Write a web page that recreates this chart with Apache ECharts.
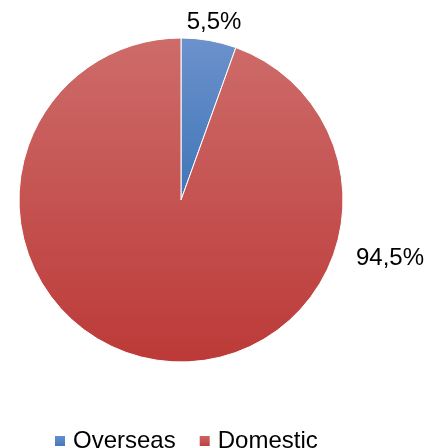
<!DOCTYPE html>
<html>
<head>
<meta charset="utf-8">
<script src="https://cdn.jsdelivr.net/npm/echarts@6/dist/echarts.min.js"></script>
<style>html,body{margin:0;padding:0;background:#fff;}#c{width:427px;height:448px;}</style>
</head>
<body>
<div id="c"></div>
<script>
var categories = ['Overseas', 'Domestic'];
var values = [5.5, 94.5];
var labelPos = [[214, 22], [390, 258]];

function grad(top, bottom) {
  return new echarts.graphic.LinearGradient(0, 0, 0, 1, [
    {offset: 0, color: top}, {offset: 1, color: bottom}
  ]);
}
var colors = [grad('#6C92CB', '#3F75B8'), grad('#CD6C6A', '#BC3A38')];

var chart = echarts.init(document.getElementById('c'));
chart.setOption({
  animation: false,
  textStyle: {fontFamily: 'Liberation Sans, Arial, sans-serif'},
  legend: {
    bottom: -5,
    left: 53,
    padding: [0, 0, 0, 0],
    icon: 'rect',
    itemWidth: 12,
    itemHeight: 12,
    itemGap: 22,
    textStyle: {fontSize: 24, color: '#000', padding: [0, 0, 0, 2], fontFamily: 'Liberation Sans, Arial, sans-serif'},
    data: categories
  },
  series: [{
    type: 'pie',
    center: [181, 200],
    radius: [0, 162],
    startAngle: 90,
    clockwise: true,
    itemStyle: {borderColor: '#fff', borderWidth: 1},
    label: {
      show: true,
      position: 'outside',
      formatter: function (p) { return String(p.value).replace('.', ',') + '%'; },
      fontSize: 24,
      color: '#000',
      fontFamily: 'Liberation Sans, Arial, sans-serif'
    },
    labelLine: {show: false},
    labelLayout: function (p) {
      var pos = labelPos[p.dataIndex];
      return {x: pos[0], y: pos[1], align: 'center', verticalAlign: 'middle'};
    },
    emphasis: {disabled: true},
    data: categories.map(function (c, i) {
      return {name: c, value: values[i], itemStyle: {color: colors[i]}};
    })
  }]
});
</script>
</body>
</html>
